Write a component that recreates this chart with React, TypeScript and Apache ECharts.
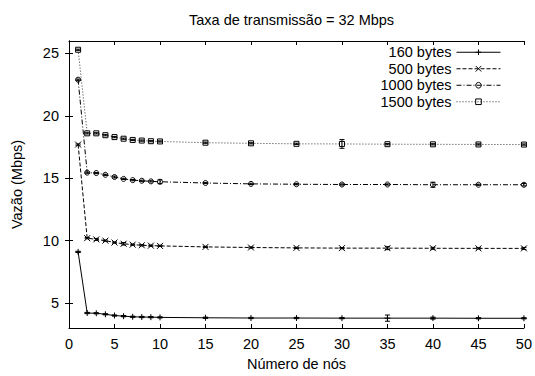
import React, { useEffect, useRef } from "react";
import * as echarts from "echarts";

const titleText = "Taxa de transmissão = 32 Mbps";
const xName = "Número de nós";
const yName = "Vazão (Mbps)";

const nodes = [1, 2, 3, 4, 5, 6, 7, 8, 9, 10, 15, 20, 25, 30, 35, 40, 45, 50];
const xTicks = [0, 5, 10, 15, 20, 25, 30, 35, 40, 45, 50];
const yTicks = [5, 10, 15, 20, 25];

const names = ["160 bytes", "500 bytes", "1000 bytes", "1500 bytes"];

const v160 = [9.1, 4.2, 4.18, 4.1, 4.0, 3.95, 3.9, 3.88, 3.87, 3.85, 3.82, 3.8, 3.8, 3.79, 3.79, 3.79, 3.78, 3.78];
const v500 = [17.7, 10.2, 10.1, 10.0, 9.85, 9.75, 9.68, 9.63, 9.6, 9.58, 9.5, 9.45, 9.42, 9.4, 9.4, 9.39, 9.38, 9.38];
const v1000 = [22.9, 15.45, 15.42, 15.28, 15.1, 14.95, 14.85, 14.8, 14.75, 14.72, 14.62, 14.55, 14.52, 14.5, 14.5, 14.48, 14.48, 14.48];
const v1500 = [25.3, 18.6, 18.6, 18.45, 18.3, 18.17, 18.07, 18.02, 17.97, 17.95, 17.85, 17.8, 17.76, 17.75, 17.73, 17.72, 17.71, 17.7];

const e160 = [0.05, 0.05, 0.05, 0.05, 0.05, 0.05, 0.05, 0.05, 0.05, 0.05, 0.05, 0.05, 0.05, 0.05, 0.25, 0.08, 0.05, 0.05];
const e500 = [0.05, 0.05, 0.08, 0.05, 0.05, 0.1, 0.05, 0.05, 0.05, 0.05, 0.05, 0.05, 0.05, 0.05, 0.12, 0.08, 0.05, 0.08];
const e1000 = [0.05, 0.05, 0.05, 0.05, 0.08, 0.05, 0.05, 0.05, 0.05, 0.15, 0.05, 0.05, 0.05, 0.05, 0.05, 0.2, 0.05, 0.1];
const e1500 = [0.05, 0.05, 0.05, 0.05, 0.05, 0.05, 0.05, 0.05, 0.05, 0.05, 0.05, 0.05, 0.05, 0.35, 0.05, 0.05, 0.05, 0.05];

const values = [v160, v500, v1000, v1500];
const errors = [e160, e500, e1000, e1500];

const symbols = [
  "path://M0,5L10,5M5,0L5,10",
  "path://M0,0L10,10M10,0L0,10",
  "circle",
  "rect",
];
const dashes: any[] = ["solid", [4, 2], [5, 2, 1, 2], [1, 2]];
const lineColors = ["#000", "#000", "#000", "#333"];

const FONT = "Liberation Sans, Arial, Helvetica, sans-serif";

export default function App() {
  const ref = useRef<HTMLDivElement>(null);
  useEffect(() => {
    if (!ref.current) return;
    const chart = echarts.init(ref.current, null, { renderer: "svg" });

    const lineSeries = names.map((name, s) => ({
      name,
      type: "line",
      xAxisIndex: 0,
      yAxisIndex: 0,
      data: nodes.map((x, i) => [x, values[s][i]]),
      symbol: symbols[s],
      symbolSize: s < 2 ? 6 : 5,
      showSymbol: true,
      lineStyle: { color: lineColors[s], width: 1, type: dashes[s] },
      itemStyle: { color: "rgba(0,0,0,0)", borderColor: "#000", borderWidth: 1 },
      emphasis: { disabled: true },
      z: 3,
    }));

    const errSeries = names.map((name, s) => ({
      name,
      type: "custom",
      xAxisIndex: 0,
      yAxisIndex: 0,
      data: nodes.map((x, i) => [x, values[s][i] - errors[s][i], values[s][i] + errors[s][i]]),
      renderItem: (params: any, api: any) => {
        const x = api.value(0);
        const lo = api.coord([x, api.value(1)]);
        const hi = api.coord([x, api.value(2)]);
        const st = { stroke: "#000", lineWidth: 1 };
        return {
          type: "group",
          children: [
            { type: "line", shape: { x1: lo[0], y1: lo[1], x2: hi[0], y2: hi[1] }, style: st },
            { type: "line", shape: { x1: lo[0] - 2.5, y1: lo[1], x2: lo[0] + 2.5, y2: lo[1] }, style: st },
            { type: "line", shape: { x1: hi[0] - 2.5, y1: hi[1], x2: hi[0] + 2.5, y2: hi[1] }, style: st },
          ],
        };
      },
      z: 4,
      silent: true,
    }));

    const axisLine = { show: true, lineStyle: { color: "#000", width: 1 } };
    const tick = { show: true, inside: true, length: 4, lineStyle: { color: "#000", width: 1 } };

    chart.setOption({
      animation: false,
      backgroundColor: "#fff",
      title: {
        text: titleText,
        left: 184,
        top: 7,
        textStyle: { fontFamily: FONT, fontSize: 14.5, fontWeight: "normal", color: "#000" },
      },
      legend: {
        data: names,
        orient: "vertical",
        right: 29,
        top: 39,
        align: "right",
        itemWidth: 44,
        itemHeight: 7,
        itemGap: 0,
        lineStyle: { width: 1 },
        itemStyle: { borderWidth: 1 },
        textStyle: { fontFamily: FONT, fontSize: 14.5, color: "#000", lineHeight: 16.5, padding: [0, 0, 0, 0] },
        selectedMode: false,
      },
      grid: { left: 69, right: 11, top: 41, bottom: 44, containLabel: false },
      xAxis: [
        {
          type: "value",
          min: 0,
          max: 50,
          interval: 5,
          name: xName,
          nameLocation: "middle",
          nameGap: 28,
          nameTextStyle: { fontFamily: FONT, fontSize: 14.5, color: "#000" },
          axisLine,
          axisTick: tick,
          splitLine: { show: false },
          axisLabel: { fontFamily: FONT, fontSize: 14.5, color: "#000", margin: 8 },
        },
        {
          type: "value",
          position: "top",
          min: 0,
          max: 50,
          interval: 5,
          axisLine,
          axisTick: tick,
          splitLine: { show: false },
          axisLabel: { show: false },
        },
      ],
      yAxis: [
        {
          type: "value",
          min: 3,
          max: 26,
          name: yName,
          nameLocation: "middle",
          nameGap: 45,
          nameTextStyle: { fontFamily: FONT, fontSize: 14.5, color: "#000" },
          axisLine,
          axisTick: { ...tick, customValues: yTicks },
          splitLine: { show: false },
          axisLabel: { fontFamily: FONT, fontSize: 14.5, color: "#000", margin: 10, customValues: yTicks },
        },
        {
          type: "value",
          position: "right",
          min: 3,
          max: 26,
          axisLine,
          axisTick: { ...tick, customValues: yTicks },
          splitLine: { show: false },
          axisLabel: { show: false, customValues: yTicks },
        },
      ],
      series: [...lineSeries, ...errSeries],
    });
    return () => chart.dispose();
  }, []);
  return <div ref={ref} style={{ width: 535, height: 376, position: "absolute", left: 0, top: 0 }} />;
}
